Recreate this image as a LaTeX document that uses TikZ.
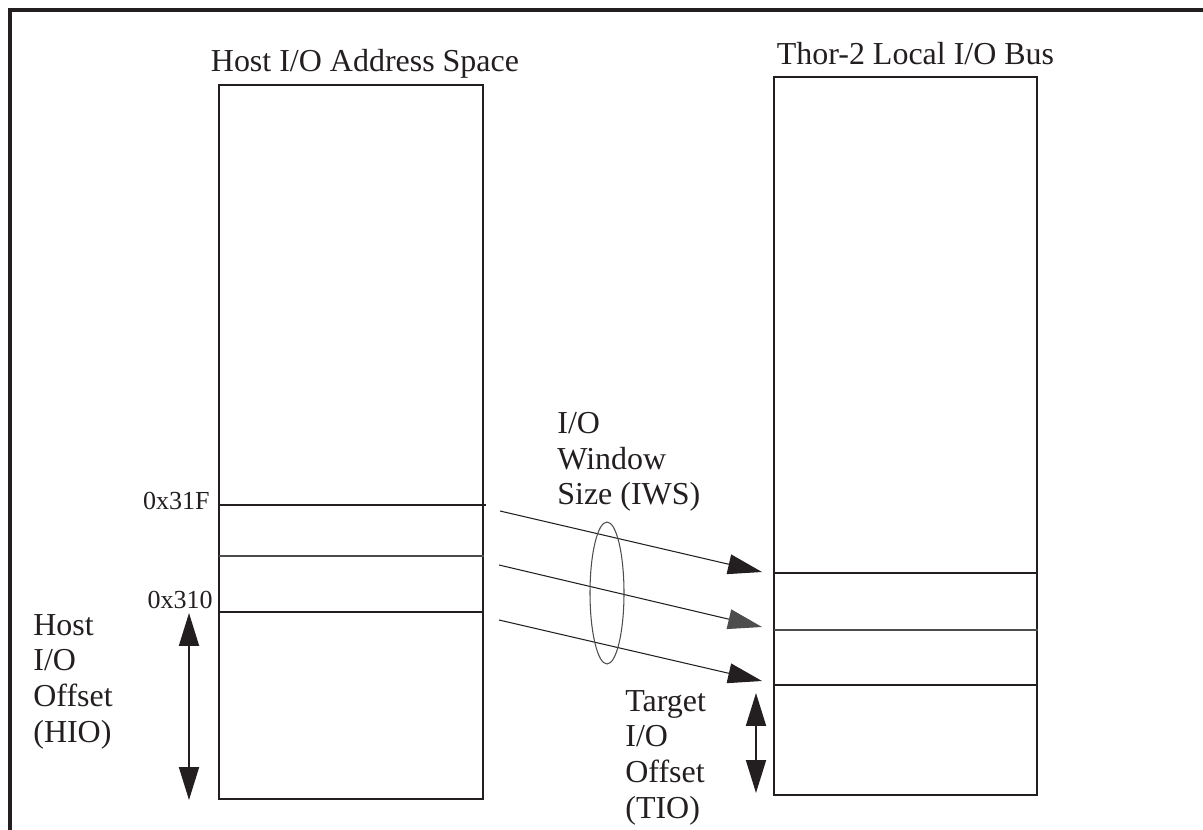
\documentclass[tikz,border=0pt]{standalone}
\usepackage{fontspec}
\setmainfont{Liberation Serif}
\usetikzlibrary{arrows.meta, positioning, shapes.geometric}
\definecolor{inkblack}{HTML}{231F20}
\definecolor{inkgray}{HTML}{4D4D4D}

\begin{document}
\begin{tikzpicture}[x=0.02cm, y=-0.02cm,
    mem/.style={draw=inkblack, line width=1.1pt, inner sep=0pt},
    slice/.style={draw=#1, line width=1.1pt},
    lbl/.style={font=\fontsize{18.2}{20.3}\selectfont, text=inkblack, inner sep=0pt, align=left},
    addr/.style={font=\fontsize{14.8}{17}\selectfont, text=inkblack, inner sep=0pt},
    map/.style={-{Triangle[length=0.68cm, width=0.4cm, color=#1]}, line width=0.6pt, draw=inkblack},
    span/.style={{Triangle[length=0.66cm, width=0.4cm]}-{Triangle[length=0.66cm, width=0.4cm]}, line width=1.1pt, draw=inkblack, fill=inkblack},
]
    \useasboundingbox (0,0) rectangle (1203,830);

    % frame
    \draw[line width=2pt, inkblack] (10,830) -- (10,10) -- (1203,10);

    % === host side ===
    \node[mem, minimum width=5.28cm, minimum height=14.28cm] (host) at (351,442) {};
    \node[lbl, anchor=base] (hosttitle) at (365,72) {Host I/O Address Space};
    \coordinate (h31f) at (219,505);
    \coordinate (hmid) at (219,556);
    \coordinate (h310) at (219,612);
    \draw[slice=inkblack] (h31f) -- (486,505);
    \draw[slice=inkgray] (hmid) -- (host.east |- hmid);
    \draw[slice=inkblack] (h310) -- (host.east |- h310);
    \node[addr, anchor=base east] (a31f) at (210,510) {0x31F};
    \node[addr, anchor=base east] (a310) at (213,608) {0x310};

    \coordinate (hiotop) at (189,613);
    \coordinate (hiobot) at (189,800);
    \draw[span] (hiotop) -- (hiobot);
    \node[lbl, anchor=base west] (hio) at (33,742) {Host\\I/O\\Offset\\(HIO)};

    % === target side ===
    \node[mem, minimum width=5.26cm, minimum height=14.36cm] (thor) at (905.5,436) {};
    \node[lbl, anchor=base] (thortitle) at (915.5,65) {Thor-2 Local I/O Bus};
    \coordinate (t1) at (774,573);
    \coordinate (t2) at (774,630);
    \coordinate (t3) at (774,685);
    \draw[slice=inkblack] (t1) -- (thor.east |- t1);
    \draw[slice=inkgray] (t2) -- (thor.east |- t2);
    \draw[slice=inkblack] (t3) -- (thor.east |- t3);

    \coordinate (tiotop) at (756,693);
    \coordinate (tiobot) at (756,793);
    \draw[span] (tiotop) -- (tiobot);
    \node[lbl, anchor=base west] (tio) at (625,818) {Target\\I/O\\Offset\\(TIO)};

    % === window mapping ===
    \coordinate (s1) at (500,511);
    \coordinate (s2) at (499,565);
    \coordinate (s3) at (499,620);
    \coordinate (e1) at (762,572);
    \coordinate (e2) at (762,627);
    \coordinate (e3) at (762,681);
    \draw[map=inkblack] (s1) -- (e1);
    \draw[map=inkgray] (s2) -- (e2);
    \draw[map=inkblack] (s3) -- (e3);
    \node[ellipse, draw=inkgray, line width=0.6pt, inner sep=0pt,
          minimum width=0.68cm, minimum height=2.84cm] (iws) at (607,593) {};
    \node[lbl, anchor=base west] (iwslbl) at (557,505) {I/O\\Window\\Size (IWS)};
\end{tikzpicture}
\end{document}
